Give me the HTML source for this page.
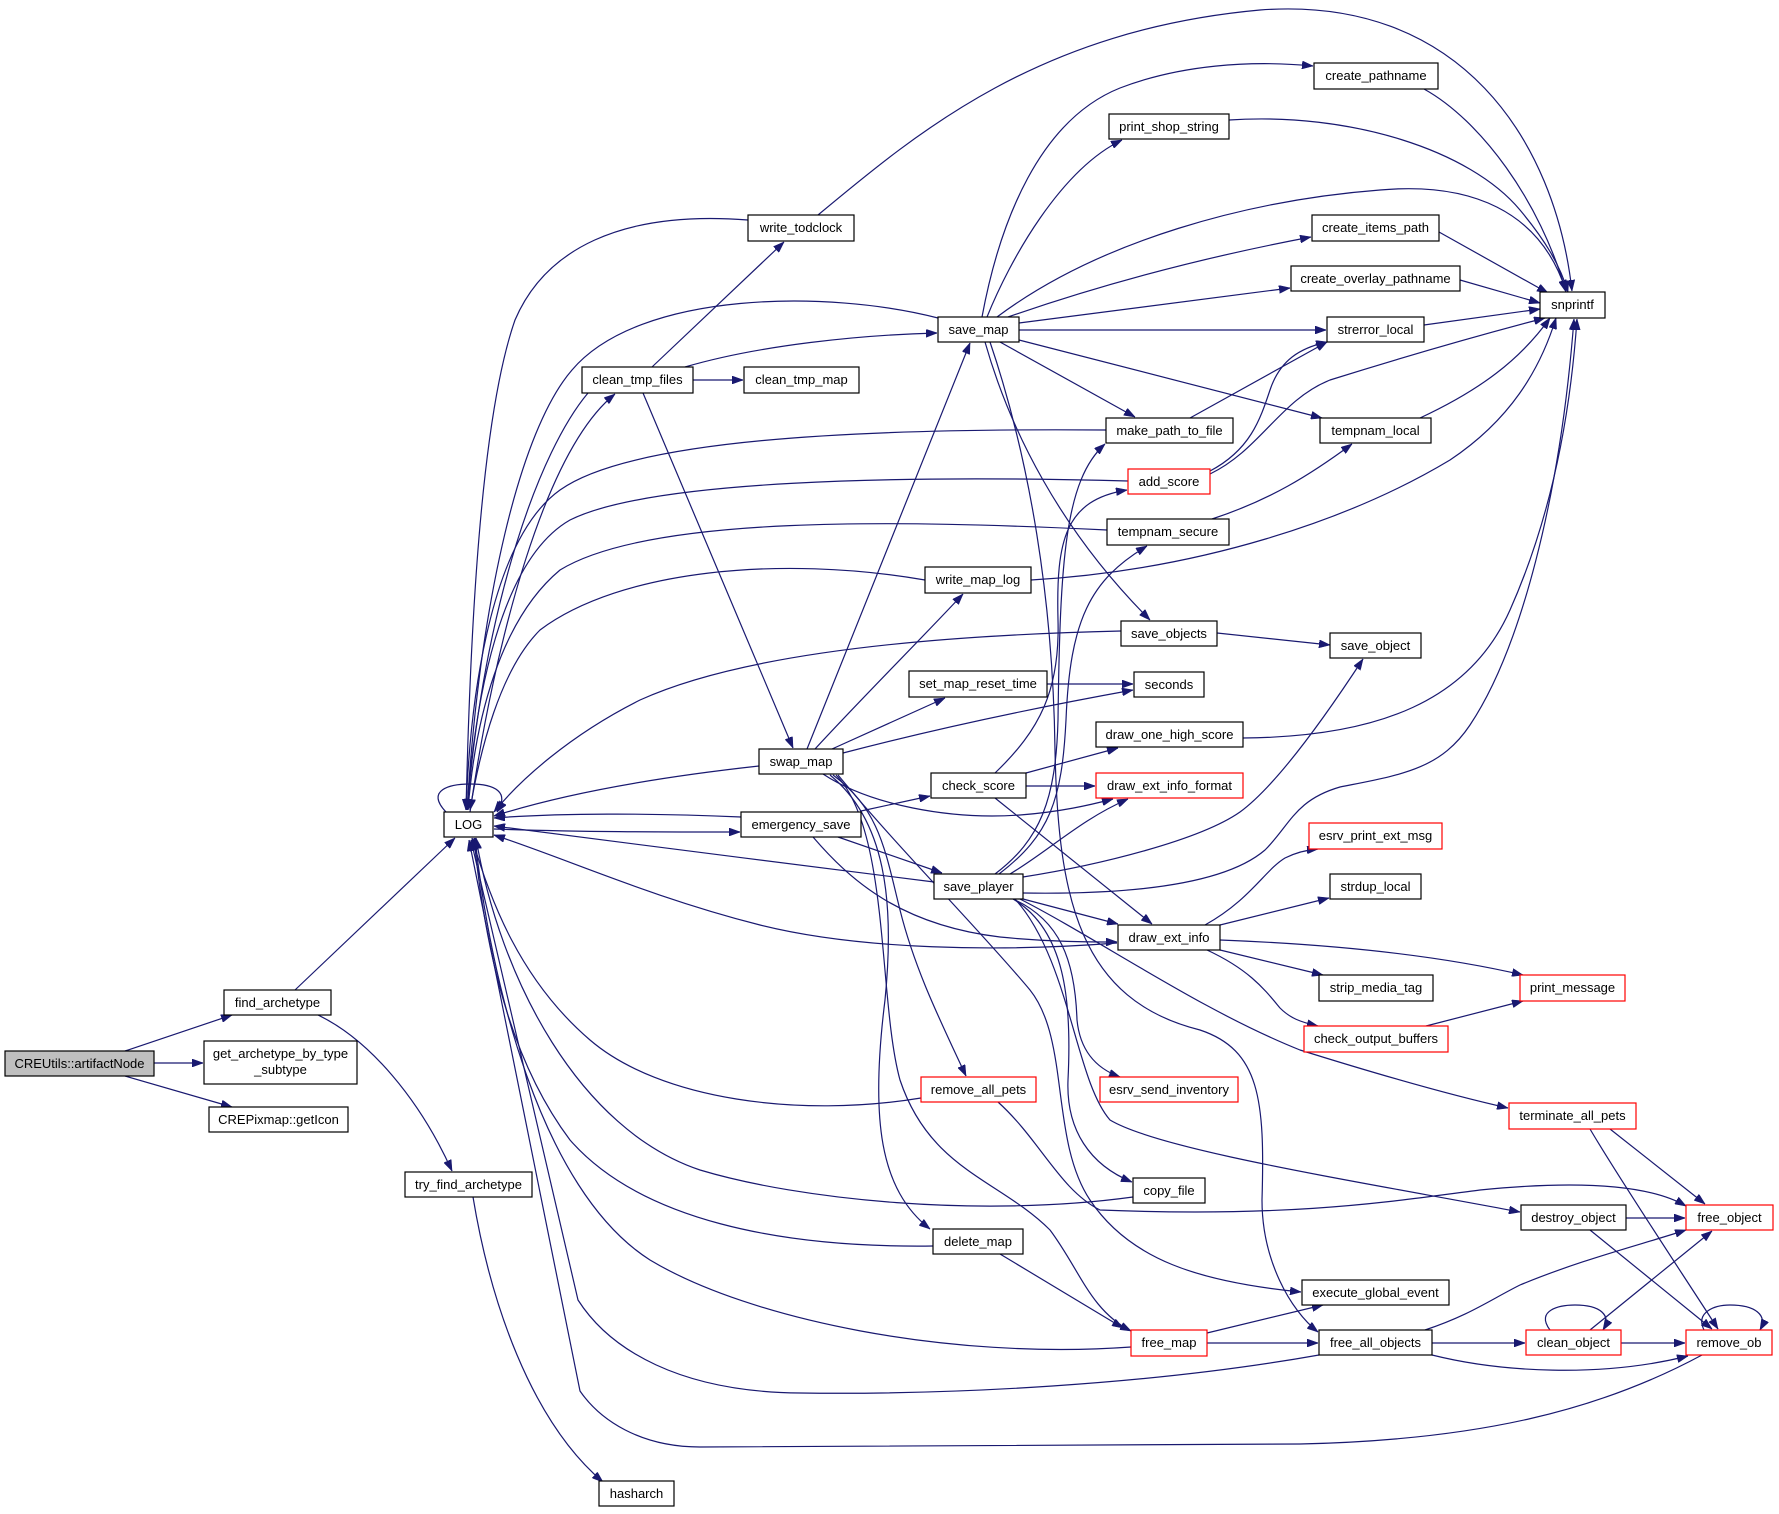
<!DOCTYPE html>
<html><head><meta charset="utf-8"><style>
html,body{margin:0;padding:0;background:#fff;}
svg{display:block;}
text{font-family:"Liberation Sans",Arial,sans-serif;font-size:13px;fill:#000;text-anchor:middle;}
.n{fill:#fff;stroke:#000;stroke-width:1.2;}
.r{fill:#fff;stroke:#ff0000;stroke-width:1.2;}
.e{fill:none;stroke:#191970;stroke-width:1.2;marker-end:url(#a);}
</style></head><body>
<svg width="1779" height="1514" viewBox="0 0 1779 1514" xmlns="http://www.w3.org/2000/svg">
<defs><marker id="a" viewBox="0 0 11 8" refX="11" refY="4" markerWidth="11" markerHeight="8" markerUnits="userSpaceOnUse" orient="auto"><path d="M0,0L11,4L0,8z" fill="#191970" stroke="#191970" stroke-width="0.6"/></marker></defs>
<rect width="1779" height="1514" fill="#fff"/>
<g>
<path class="e" d="M125,1051 L232,1015"/>
<path class="e" d="M154,1063 L203,1063"/>
<path class="e" d="M125,1076 L232,1107"/>
<path class="e" d="M295,990 L455,838"/>
<path class="e" d="M318,1015 C370,1040 420,1100 452,1171"/>
<path class="e" d="M473,1197 C490,1300 530,1420 603,1482"/>
<path class="e" d="M446,812 C425,790 450,784 470,784 C495,784 510,792 497,812"/>
<path class="e" d="M748,220 C620,210 545,250 515,320 C480,420 470,640 466,810"/>
<path class="e" d="M818,215 C920,130 1040,30 1260,10 C1460,-5 1555,140 1572,291"/>
<path class="e" d="M652,367 L784,242"/>
<path class="e" d="M693,380 L743,380"/>
<path class="e" d="M685,367 C760,345 860,335 937,333"/>
<path class="e" d="M643,393 L793,748"/>
<path class="e" d="M588,393 C540,450 485,600 467,810"/>
<path class="e" d="M470,812 C495,640 545,450 615,394"/>
<path class="e" d="M938,318 C830,290 640,290 572,370 C520,430 480,600 467,810"/>
<path class="e" d="M982,317 C1000,220 1040,120 1120,88 C1180,65 1250,60 1313,66"/>
<path class="e" d="M987,317 C1010,260 1060,170 1122,140"/>
<path class="e" d="M997,317 C1100,240 1250,200 1380,190 C1470,182 1540,210 1566,291"/>
<path class="e" d="M1008,317 C1100,285 1200,258 1311,237"/>
<path class="e" d="M1019,323 L1290,288"/>
<path class="e" d="M1019,330 L1326,330"/>
<path class="e" d="M1019,340 L1322,418"/>
<path class="e" d="M1000,342 L1135,417"/>
<path class="e" d="M985,342 C1010,430 1060,530 1150,620"/>
<path class="e" d="M990,342 C1030,460 1053,600 1055,750 C1058,900 1080,1000 1200,1030 C1260,1050 1265,1100 1262,1200 C1262,1260 1290,1310 1318,1332"/>
<path class="e" d="M759,766 C650,778 560,795 494,816"/>
<path class="e" d="M807,749 L970,343"/>
<path class="e" d="M815,749 C860,700 920,640 963,594"/>
<path class="e" d="M832,749 L945,698"/>
<path class="e" d="M843,753 C950,725 1050,705 1133,690"/>
<path class="e" d="M1047,684 L1133,684"/>
<path class="e" d="M823,774 C870,805 950,820 1020,815 C1060,812 1090,805 1113,799"/>
<path class="e" d="M833,775 C880,810 885,850 900,910 C915,970 940,1020 966,1076"/>
<path class="e" d="M830,775 C885,820 895,900 885,1000 C870,1120 880,1190 930,1229"/>
<path class="e" d="M836,775 C890,830 878,1000 900,1080 C930,1170 1000,1180 1050,1230 C1080,1270 1090,1310 1131,1331"/>
<path class="e" d="M838,775 C900,850 980,930 1030,990 C1070,1040 1050,1140 1090,1200 C1130,1260 1200,1282 1301,1292"/>
<path class="e" d="M741,817 C650,813 560,813 494,818"/>
<path class="e" d="M494,829 C580,832 660,832 740,832"/>
<path class="e" d="M861,811 L930,796"/>
<path class="e" d="M838,837 L942,873"/>
<path class="e" d="M813,837 C850,880 900,925 1000,937 C1050,942 1090,942 1117,942"/>
<path class="e" d="M934,882 C800,865 600,840 494,826"/>
<path class="e" d="M1117,943 C1000,952 860,950 760,925 C650,897 570,860 494,835"/>
<path class="e" d="M1026,773 L1118,748"/>
<path class="e" d="M1026,786 L1095,786"/>
<path class="e" d="M995,773 C1040,730 1060,690 1058,620 C1056,540 1065,500 1127,490"/>
<path class="e" d="M995,798 L1152,924"/>
<path class="e" d="M1010,874 C1050,850 1080,820 1128,799"/>
<path class="e" d="M995,874 C1040,840 1056,800 1058,720 C1060,560 1065,480 1105,444"/>
<path class="e" d="M999,874 C1050,835 1062,800 1066,720 C1070,620 1090,580 1147,546"/>
<path class="e" d="M1023,877 C1100,865 1200,840 1240,812 C1270,790 1310,740 1363,659"/>
<path class="e" d="M1023,893 C1150,895 1230,880 1265,850 C1290,825 1295,800 1340,787 C1400,775 1440,770 1470,725 C1520,650 1560,500 1574,319"/>
<path class="e" d="M1023,899 L1118,924"/>
<path class="e" d="M1013,899 C1060,920 1075,960 1077,1020 C1080,1050 1095,1068 1120,1077"/>
<path class="e" d="M1013,899 C1065,930 1072,1000 1068,1080 C1066,1130 1090,1165 1132,1182"/>
<path class="e" d="M1020,899 C1100,940 1200,1010 1300,1050 C1380,1075 1450,1095 1508,1108"/>
<path class="e" d="M1015,899 C1070,960 1075,1080 1110,1120 C1160,1150 1350,1180 1520,1212"/>
<path class="e" d="M921,1098 C800,1118 660,1100 590,1040 C520,980 490,900 472,838"/>
<path class="e" d="M998,1102 C1040,1140 1060,1190 1100,1210 C1300,1218 1400,1200 1480,1190 C1580,1180 1650,1185 1686,1206"/>
<path class="e" d="M933,1246 C780,1248 640,1220 570,1140 C510,1060 485,950 474,838"/>
<path class="e" d="M1000,1254 L1123,1328"/>
<path class="e" d="M1133,1197 C980,1218 800,1200 700,1170 C580,1130 500,980 476,838"/>
<path class="e" d="M1131,1347 C950,1360 750,1320 650,1260 C540,1190 490,980 475,838"/>
<path class="e" d="M1207,1333 L1323,1305"/>
<path class="e" d="M1207,1343 L1318,1343"/>
<path class="e" d="M1319,1355 C1150,1385 950,1395 800,1393 C680,1392 610,1350 578,1300 L471,840"/>
<path class="e" d="M1702,1355 C1600,1410 1480,1440 1300,1444 L700,1447 C640,1447 600,1420 580,1391 L469,840"/>
<path class="e" d="M1425,1330 C1470,1315 1490,1300 1520,1285 C1580,1260 1640,1245 1686,1230"/>
<path class="e" d="M1432,1343 L1525,1343"/>
<path class="e" d="M1432,1355 C1500,1372 1600,1378 1688,1356"/>
<path class="e" d="M1590,1330 L1712,1231"/>
<path class="e" d="M1621,1343 L1685,1343"/>
<path class="e" d="M1550,1330 C1535,1310 1560,1305 1575,1305 C1600,1305 1612,1315 1603,1330"/>
<path class="e" d="M1704,1330 C1695,1312 1715,1305 1730,1305 C1755,1305 1768,1315 1760,1330"/>
<path class="e" d="M1626,1218 L1685,1218"/>
<path class="e" d="M1590,1230 L1712,1329"/>
<path class="e" d="M1610,1129 L1705,1204"/>
<path class="e" d="M1590,1129 C1620,1180 1680,1270 1718,1329"/>
<path class="e" d="M1205,925 C1250,900 1265,870 1285,858 C1295,853 1305,850 1318,849"/>
<path class="e" d="M1220,925 L1329,898"/>
<path class="e" d="M1220,940 C1350,945 1450,958 1523,975"/>
<path class="e" d="M1220,950 L1323,975"/>
<path class="e" d="M1207,950 C1250,970 1265,990 1280,1008 C1290,1018 1300,1022 1318,1026"/>
<path class="e" d="M1426,1026 L1523,1001"/>
<path class="e" d="M1243,738 C1380,737 1470,700 1510,610 C1550,520 1570,420 1577,319"/>
<path class="e" d="M1420,418 C1480,390 1520,360 1550,318"/>
<path class="e" d="M1212,519 C1270,500 1310,475 1352,444"/>
<path class="e" d="M1031,580 C1200,570 1350,520 1450,460 C1510,420 1540,370 1556,318"/>
<path class="e" d="M925,580 C780,555 620,570 540,630 C500,670 480,750 470,810"/>
<path class="e" d="M1107,530 C900,520 650,515 560,570 C500,620 475,720 468,810"/>
<path class="e" d="M1128,481 C900,475 650,480 570,520 C500,560 475,700 467,810"/>
<path class="e" d="M1106,430 C850,428 630,440 560,490 C490,540 470,700 466,810"/>
<path class="e" d="M1190,418 L1327,342"/>
<path class="e" d="M1210,471 C1250,450 1260,420 1270,390 C1280,360 1300,348 1327,342"/>
<path class="e" d="M1210,474 C1260,450 1280,400 1330,380 C1410,355 1480,335 1545,318"/>
<path class="e" d="M1424,325 L1540,309"/>
<path class="e" d="M1460,280 L1540,303"/>
<path class="e" d="M1439,232 L1548,293"/>
<path class="e" d="M1424,89 C1480,120 1540,200 1566,292"/>
<path class="e" d="M1229,120 C1350,112 1470,150 1520,210 C1545,240 1560,265 1568,292"/>
<path class="e" d="M1121,631 C950,635 750,650 640,700 C570,735 520,780 494,812"/>
<path class="e" d="M1217,633 L1330,645"/>
</g>
<g>
<rect x="5" y="1051" width="149" height="25" fill="#bfbfbf" stroke="#000" stroke-width="1.2"/><text x="79.5" y="1068">CREUtils::artifactNode</text>
<rect class="n" x="224" y="990" width="107" height="25"/><text x="277.5" y="1007">find_archetype</text>
<rect class="n" x="204" y="1041" width="153" height="43"/><text x="280.5" y="1058">get_archetype_by_type</text><text x="280.5" y="1074">_subtype</text>
<rect class="n" x="209" y="1107" width="139" height="25"/><text x="278.5" y="1124">CREPixmap::getIcon</text>
<rect class="n" x="405" y="1172" width="127" height="25"/><text x="468.5" y="1189">try_find_archetype</text>
<rect class="n" x="599" y="1481" width="75" height="25"/><text x="636.5" y="1498">hasharch</text>
<rect class="n" x="444" y="812" width="49" height="25"/><text x="468.5" y="829">LOG</text>
<rect class="n" x="748" y="215" width="106" height="26"/><text x="801" y="232">write_todclock</text>
<rect class="n" x="582" y="367" width="111" height="26"/><text x="637.5" y="384">clean_tmp_files</text>
<rect class="n" x="744" y="367" width="115" height="26"/><text x="801.5" y="384">clean_tmp_map</text>
<rect class="n" x="938" y="317" width="81" height="25"/><text x="978.5" y="334">save_map</text>
<rect class="n" x="759" y="749" width="84" height="25"/><text x="801" y="766">swap_map</text>
<rect class="n" x="741" y="812" width="120" height="25"/><text x="801" y="829">emergency_save</text>
<rect class="n" x="925" y="567" width="106" height="26"/><text x="978" y="584">write_map_log</text>
<rect class="n" x="909" y="671" width="138" height="26"/><text x="978" y="688">set_map_reset_time</text>
<rect class="n" x="931" y="773" width="95" height="25"/><text x="978.5" y="790">check_score</text>
<rect class="n" x="934" y="874" width="89" height="25"/><text x="978.5" y="891">save_player</text>
<rect class="r" x="921" y="1077" width="115" height="25"/><text x="978.5" y="1094">remove_all_pets</text>
<rect class="n" x="933" y="1229" width="90" height="25"/><text x="978" y="1246">delete_map</text>
<rect class="n" x="1314" y="63" width="124" height="26"/><text x="1376" y="80">create_pathname</text>
<rect class="n" x="1109" y="114" width="120" height="25"/><text x="1169" y="131">print_shop_string</text>
<rect class="n" x="1312" y="215" width="127" height="26"/><text x="1375.5" y="232">create_items_path</text>
<rect class="n" x="1291" y="266" width="169" height="25"/><text x="1375.5" y="283">create_overlay_pathname</text>
<rect class="n" x="1327" y="317" width="97" height="25"/><text x="1375.5" y="334">strerror_local</text>
<rect class="n" x="1106" y="418" width="127" height="25"/><text x="1169.5" y="435">make_path_to_file</text>
<rect class="r" x="1128" y="469" width="82" height="25"/><text x="1169" y="486">add_score</text>
<rect class="n" x="1107" y="519" width="122" height="26"/><text x="1168" y="536">tempnam_secure</text>
<rect class="n" x="1320" y="418" width="111" height="25"/><text x="1375.5" y="435">tempnam_local</text>
<rect class="n" x="1121" y="621" width="96" height="25"/><text x="1169" y="638">save_objects</text>
<rect class="n" x="1134" y="672" width="70" height="25"/><text x="1169" y="689">seconds</text>
<rect class="n" x="1096" y="722" width="147" height="25"/><text x="1169.5" y="739">draw_one_high_score</text>
<rect class="r" x="1096" y="773" width="147" height="25"/><text x="1169.5" y="790">draw_ext_info_format</text>
<rect class="n" x="1118" y="925" width="102" height="25"/><text x="1169" y="942">draw_ext_info</text>
<rect class="r" x="1100" y="1077" width="138" height="25"/><text x="1169" y="1094">esrv_send_inventory</text>
<rect class="n" x="1133" y="1178" width="72" height="25"/><text x="1169" y="1195">copy_file</text>
<rect class="n" x="1302" y="1280" width="147" height="25"/><text x="1375.5" y="1297">execute_global_event</text>
<rect class="r" x="1131" y="1330" width="76" height="26"/><text x="1169" y="1347">free_map</text>
<rect class="n" x="1319" y="1330" width="113" height="25"/><text x="1375.5" y="1347">free_all_objects</text>
<rect class="n" x="1540" y="292" width="65" height="26"/><text x="1572.5" y="309">snprintf</text>
<rect class="n" x="1330" y="633" width="91" height="25"/><text x="1375.5" y="650">save_object</text>
<rect class="r" x="1309" y="823" width="133" height="26"/><text x="1375.5" y="840">esrv_print_ext_msg</text>
<rect class="n" x="1330" y="874" width="91" height="25"/><text x="1375.5" y="891">strdup_local</text>
<rect class="n" x="1319" y="975" width="114" height="26"/><text x="1376" y="992">strip_media_tag</text>
<rect class="r" x="1520" y="975" width="105" height="26"/><text x="1572.5" y="992">print_message</text>
<rect class="r" x="1304" y="1026" width="144" height="26"/><text x="1376" y="1043">check_output_buffers</text>
<rect class="r" x="1509" y="1103" width="127" height="26"/><text x="1572.5" y="1120">terminate_all_pets</text>
<rect class="n" x="1521" y="1205" width="105" height="25"/><text x="1573.5" y="1222">destroy_object</text>
<rect class="r" x="1686" y="1205" width="87" height="25"/><text x="1729.5" y="1222">free_object</text>
<rect class="r" x="1526" y="1330" width="95" height="25"/><text x="1573.5" y="1347">clean_object</text>
<rect class="r" x="1686" y="1330" width="86" height="25"/><text x="1729" y="1347">remove_ob</text>
</g>
</svg>
</body></html>
